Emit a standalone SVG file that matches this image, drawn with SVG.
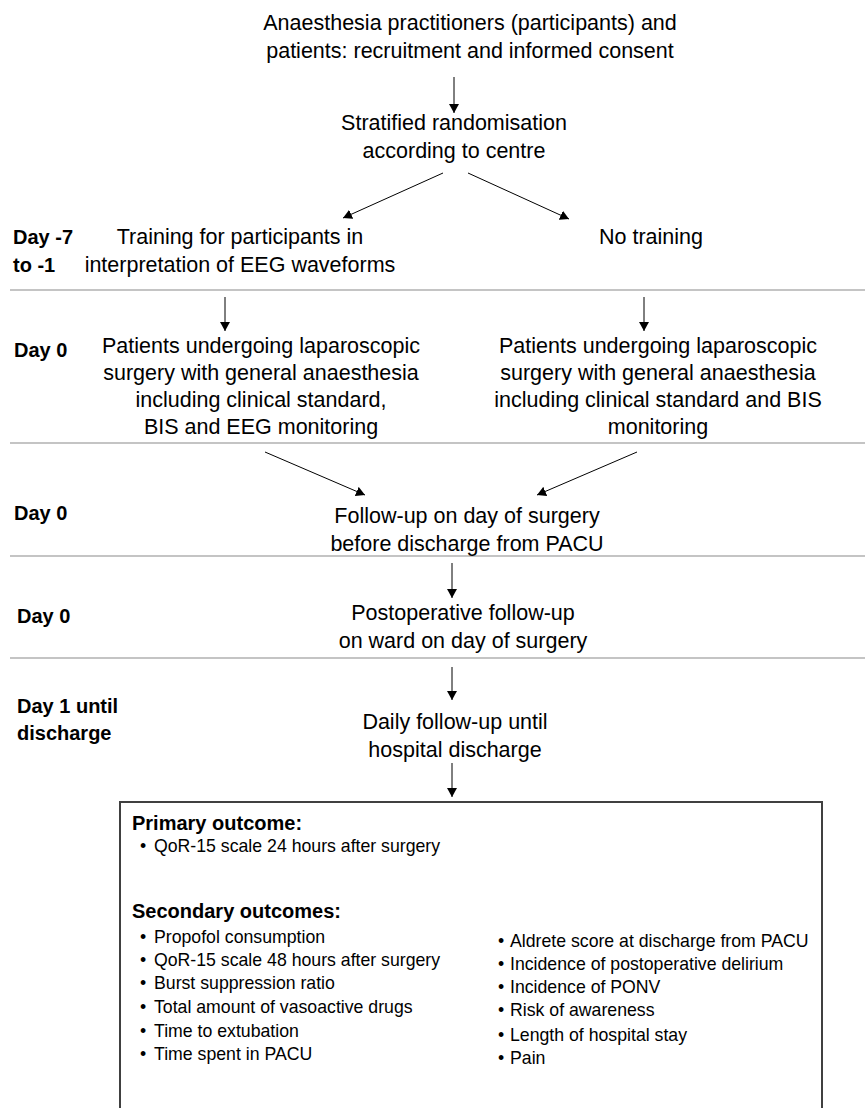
<svg xmlns="http://www.w3.org/2000/svg" width="865" height="1108" viewBox="0 0 865 1108">
  <defs>
    <marker id="ah" markerWidth="10" markerHeight="10" refX="9" refY="5" orient="auto" markerUnits="userSpaceOnUse">
      <path d="M0,0 L9,5 L0,10 Z" fill="#000"/>
    </marker>
    <style>
      .t { font-family: "Liberation Sans", Arial, sans-serif; font-size: 21.5px; fill: #000; text-anchor: middle; }
      .d { font-family: "Liberation Sans", Arial, sans-serif; font-size: 20px; font-weight: bold; fill: #000; }
      .h { font-family: "Liberation Sans", Arial, sans-serif; font-size: 20px; font-weight: bold; fill: #000; }
      .l { font-family: "Liberation Sans", Arial, sans-serif; font-size: 17.7px; fill: #000; }
      .sep { stroke: #c4c4c4; stroke-width: 2; fill: none; }
      .c { stroke: #000; stroke-width: 1; fill: none; marker-end: url(#ah); }
    </style>
  </defs>
  <rect width="865" height="1108" fill="#fff"/>

  <g id="separators">
    <line class="sep" x1="10" y1="290" x2="865" y2="290"/>
    <line class="sep" x1="10" y1="443" x2="865" y2="443"/>
    <line class="sep" x1="10" y1="556" x2="865" y2="556"/>
    <line class="sep" x1="10" y1="658" x2="865" y2="658"/>
  </g>

  <g id="day-labels">
    <text class="d" x="13" y="244">Day -7</text>
    <text class="d" x="13" y="272">to -1</text>
    <text class="d" x="14" y="357">Day 0</text>
    <text class="d" x="14" y="520">Day 0</text>
    <text class="d" x="17" y="623">Day 0</text>
    <text class="d" x="17" y="713">Day 1 until</text>
    <text class="d" x="17" y="740">discharge</text>
  </g>

  <g id="recruitment">
    <text class="t" x="470" y="30">Anaesthesia practitioners (participants) and</text>
    <text class="t" x="470" y="58">patients: recruitment and informed consent</text>
  </g>

  <g id="randomisation">
    <text class="t" x="454" y="130">Stratified randomisation</text>
    <text class="t" x="454" y="158">according to centre</text>
  </g>

  <g id="training">
    <text class="t" x="240" y="244">Training for participants in</text>
    <text class="t" x="240" y="272">interpretation of EEG waveforms</text>
  </g>

  <g id="no-training">
    <text class="t" x="651" y="244">No training</text>
  </g>

  <g id="surgery-eeg">
    <text class="t" x="261" y="353">Patients undergoing laparoscopic</text>
    <text class="t" x="261" y="380">surgery with general anaesthesia</text>
    <text class="t" x="261" y="407">including clinical standard,</text>
    <text class="t" x="261" y="434">BIS and EEG monitoring</text>
  </g>

  <g id="surgery-bis">
    <text class="t" x="658" y="353">Patients undergoing laparoscopic</text>
    <text class="t" x="658" y="380">surgery with general anaesthesia</text>
    <text class="t" x="658" y="407">including clinical standard and BIS</text>
    <text class="t" x="658" y="434">monitoring</text>
  </g>

  <g id="pacu-followup">
    <text class="t" x="467" y="523">Follow-up on day of surgery</text>
    <text class="t" x="467" y="551">before discharge from PACU</text>
  </g>

  <g id="ward-followup">
    <text class="t" x="463" y="620">Postoperative follow-up</text>
    <text class="t" x="463" y="648">on ward on day of surgery</text>
  </g>

  <g id="daily-followup">
    <text class="t" x="455" y="729">Daily follow-up until</text>
    <text class="t" x="455" y="757">hospital discharge</text>
  </g>

  <g id="outcomes">
    <path d="M120,1108 L120,802 L822,802 L822,1108" fill="none" stroke="#404040" stroke-width="2"/>
    <text class="h" x="132" y="830">Primary outcome:</text>
    <text class="l" x="140" y="852">•</text><text class="l" x="154" y="852">QoR-15 scale 24 hours after surgery</text>
    <text class="h" x="132" y="918">Secondary outcomes:</text>
    <g class="l">
      <text class="l" x="140" y="943">•</text><text class="l" x="154" y="943">Propofol consumption</text>
      <text class="l" x="140" y="966">•</text><text class="l" x="154" y="966">QoR-15 scale 48 hours after surgery</text>
      <text class="l" x="140" y="989">•</text><text class="l" x="154" y="989">Burst suppression ratio</text>
      <text class="l" x="140" y="1013">•</text><text class="l" x="154" y="1013">Total amount of vasoactive drugs</text>
      <text class="l" x="140" y="1037">•</text><text class="l" x="154" y="1037">Time to extubation</text>
      <text class="l" x="140" y="1060">•</text><text class="l" x="154" y="1060">Time spent in PACU</text>
      <text class="l" x="498" y="947">•</text><text class="l" x="510" y="947">Aldrete score at discharge from PACU</text>
      <text class="l" x="498" y="970">•</text><text class="l" x="510" y="970">Incidence of postoperative delirium</text>
      <text class="l" x="498" y="993">•</text><text class="l" x="510" y="993">Incidence of PONV</text>
      <text class="l" x="498" y="1016">•</text><text class="l" x="510" y="1016">Risk of awareness</text>
      <text class="l" x="498" y="1041">•</text><text class="l" x="510" y="1041">Length of hospital stay</text>
      <text class="l" x="498" y="1064">•</text><text class="l" x="510" y="1064">Pain</text>
    </g>
  </g>

  <g id="connectors">
    <line class="c" x1="454" y1="77" x2="454" y2="113"/>
    <line class="c" x1="443" y1="173" x2="343" y2="218"/>
    <line class="c" x1="468" y1="173" x2="569" y2="219"/>
    <line class="c" x1="225" y1="297" x2="225" y2="331"/>
    <line class="c" x1="644" y1="297" x2="644" y2="331"/>
    <line class="c" x1="265" y1="452" x2="365" y2="495"/>
    <line class="c" x1="637" y1="452" x2="537" y2="495"/>
    <line class="c" x1="452" y1="563" x2="452" y2="598"/>
    <line class="c" x1="452" y1="667" x2="452" y2="700"/>
    <line class="c" x1="452" y1="763" x2="452" y2="797"/>
  </g>
</svg>
